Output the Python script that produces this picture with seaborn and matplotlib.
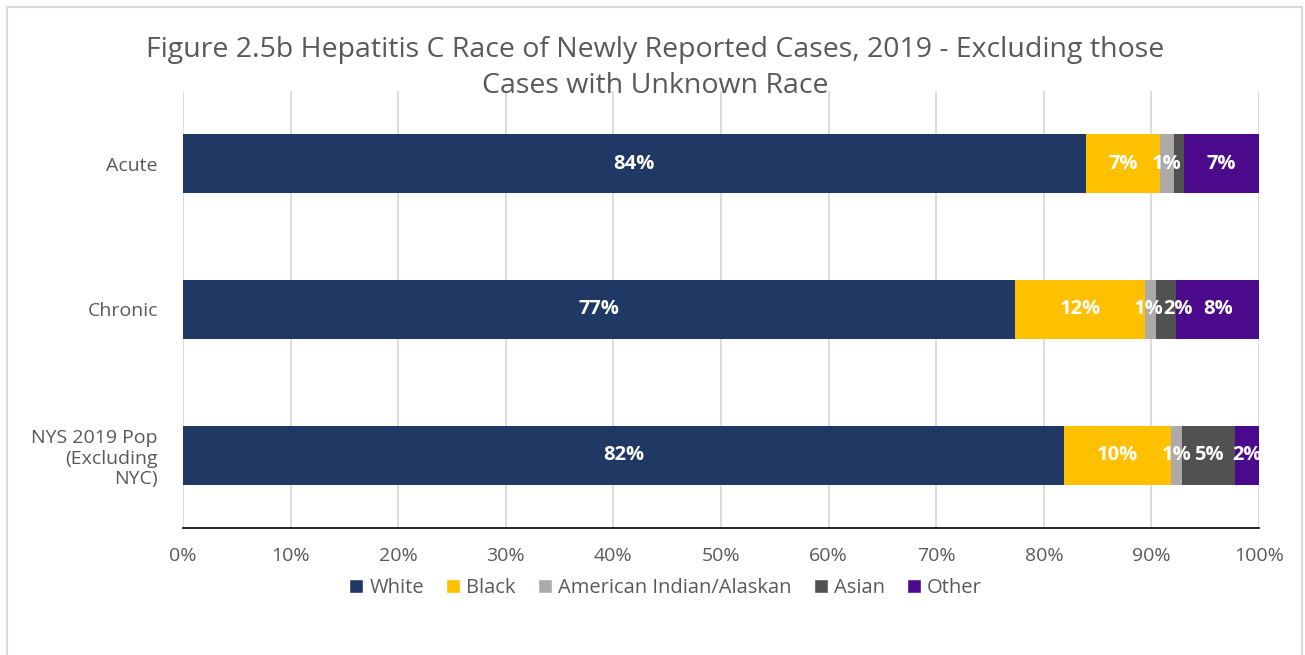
import pandas as pd
import matplotlib
matplotlib.use('Agg')
import matplotlib.pyplot as plt
import seaborn as sns
from matplotlib.patches import Patch, Rectangle

categories = ['Acute', 'Chronic', 'NYS 2019 Pop\n(Excluding\nNYC)']
races = ['White', 'Black', 'American Indian/Alaskan', 'Asian', 'Other']
white = [83.9, 77.3, 81.9]
black = [6.9, 12.1, 9.9]
am_indian = [1.3, 1.0, 1.0]
asian = [0.9, 1.9, 5.0]
other = [7.0, 7.7, 2.2]
colors = ['#203864', '#FFC000', '#AEAAAA', '#515151', '#4B0A8C']
# data labels that were left off in the original chart
hidden = [('Acute', 'Asian')]
# small nudges of crowded labels (in % units)
nudge = {('Chronic', 'Asian'): 1.1, ('Chronic', 'American Indian/Alaskan'): -0.2}

sns.set_style('white')
plt.rcParams['font.family'] = ['Open Sans', 'DejaVu Sans']
text_col = '#595959'

df = pd.DataFrame({'White': white, 'Black': black,
                   'American Indian/Alaskan': am_indian,
                   'Asian': asian, 'Other': other}, index=categories)
cum = df.cumsum(axis=1)

fig = plt.figure(figsize=(13.05, 6.55), dpi=100)
ax = fig.add_axes([0.1402, 0.1939, 0.8246, 0.6672])

# stacked bars: draw cumulative totals from the last series backwards
for race, col in reversed(list(zip(races, colors))):
    sns.barplot(x=cum[race].values, y=categories, orient='h', color=col,
                width=0.405, ax=ax, linewidth=0, saturation=1)

for i, cat in enumerate(categories):
    for race in races:
        if (cat, race) in hidden:
            continue
        v = df.loc[cat, race]
        xc = cum.loc[cat, race] - v / 2 + nudge.get((cat.split('\n')[0], race), 0)
        ax.text(xc, i, f'{v:.0f}%', ha='center', va='center', color='white',
                fontsize=14.5, fontweight='bold')

ax.set_xlim(0, 100)
ax.set_ylim(2.5, -0.5)
ax.set_xticks(range(0, 101, 10))
ax.set_xticklabels([f'{t}%' for t in range(0, 101, 10)], color=text_col, fontsize=14)
ax.set_yticks(range(len(categories)))
ax.set_yticklabels(categories, color=text_col, fontsize=14)
ax.tick_params(axis='y', length=0, pad=18)
ax.tick_params(axis='x', direction='in', length=6, width=1.2, color='black', pad=14)
ax.grid(axis='x', color='#D9D9D9', linewidth=1.3)
ax.set_axisbelow(True)
for s in ['top', 'right', 'left']:
    ax.spines[s].set_visible(False)
ax.spines['bottom'].set_color('black')
ax.spines['bottom'].set_linewidth(1.2)
ax.set_xlabel('')
ax.set_ylabel('')

fig.text(0.502, 0.896, 'Figure 2.5b Hepatitis C Race of Newly Reported Cases, 2019 - Excluding those\nCases with Unknown Race',
         ha='center', va='center', fontsize=20.5, color=text_col, linespacing=1.4)

handles = [Patch(facecolor=c, label=r) for r, c in zip(races, colors)]
fig.legend(handles=handles, loc='center', bbox_to_anchor=(0.51, 0.102), ncol=5,
           frameon=False, fontsize=14.5, handlelength=0.7, handleheight=0.7,
           handletextpad=0.3, columnspacing=1.1, labelcolor=text_col)

fig.patches.append(Rectangle((0.005, -0.01), 0.993, 1.0, transform=fig.transFigure,
                             fill=False, edgecolor='#D9D9D9', linewidth=1.5))

fig.savefig('out.png', dpi=100)
